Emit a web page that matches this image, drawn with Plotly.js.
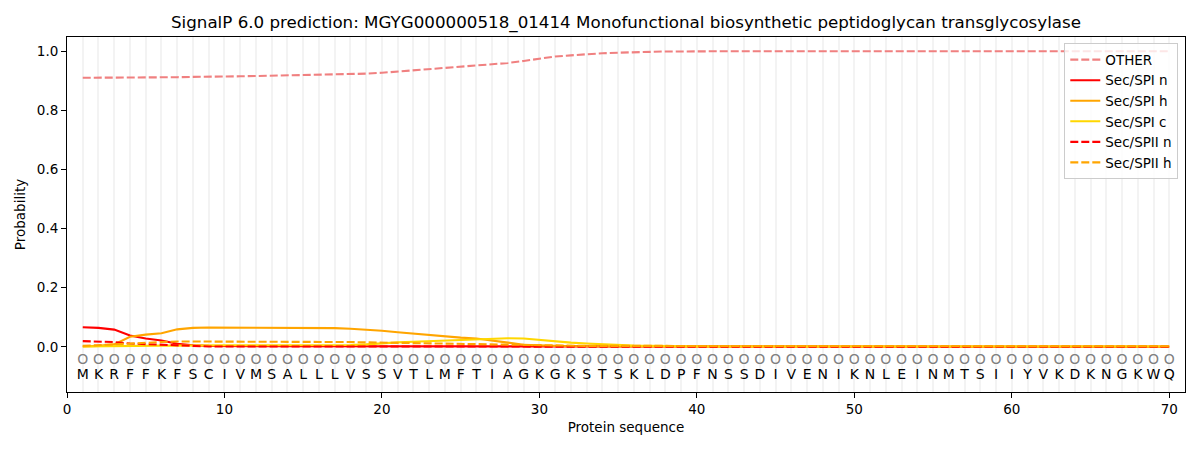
<!DOCTYPE html>
<html>
<head>
<meta charset="utf-8">
<script src="https://cdn.plot.ly/plotly-3.0.1.min.js"></script>
<style>
  html, body { margin: 0; padding: 0; background: #fff; }
  #chart { width: 1200px; height: 450px; }
</style>
</head>
<body>
<div id="chart"></div>
<script>
// residues of the protein, one letter per position
var sequence = ['M','K','R','F','F','K','F','S','C','I','V','M','S','A','L','L','L','V','S','S',
                'V','T','L','M','F','T','I','A','G','K','G','K','S','T','S','K','L','D','P','F',
                'N','S','S','D','I','V','E','N','I','K','N','L','E','I','N','M','T','S','I','I',
                'Y','V','K','D','K','N','G','K','W','Q']

// predicted label per residue (all "O" = other)
var predLabels = sequence.map(function () { return 'O' })

var positions = sequence.map(function (s, i) { return i + 1 })

// per-residue probabilities
var other = [0.910,0.910,0.910,0.910,0.911,0.911,0.912,0.913,0.913,0.914,
             0.915,0.916,0.917,0.918,0.919,0.920,0.921,0.922,0.924,0.927,
             0.931,0.935,0.939,0.943,0.947,0.951,0.955,0.960,0.967,0.975,
             0.982,0.986,0.990,0.993,0.995,0.997,0.998,0.999,0.999,1.000,
             1.000,1.000,1.000,1.000,1.000,1.000,1.000,1.000,1.000,1.000,
             1.000,1.000,1.000,1.000,1.000,1.000,1.000,1.000,1.000,1.000,
             1.000,1.000,1.000,1.000,1.000,1.000,1.000,1.000,1.000,1.000]

var spiN = [0.066,0.064,0.058,0.038,0.028,0.021,0.010,0.005,0.003,0.002,
            0.002,0.002,0.002,0.002,0.002,0.002,0.002,0.002,0.002,0.002,
            0.001,0.001,0.001,0.001,0.001,0.001,0.001,0.001,0.001,0.001,
            0.000,0.000,0.000,0.000,0.000,0.000,0.000,0.000,0.000,0.000,
            0.000,0.000,0.000,0.000,0.000,0.000,0.000,0.000,0.000,0.000,
            0.000,0.000,0.000,0.000,0.000,0.000,0.000,0.000,0.000,0.000,
            0.000,0.000,0.000,0.000,0.000,0.000,0.000,0.000,0.000,0.000]

var spiH = [0.001,0.003,0.008,0.034,0.041,0.046,0.059,0.064,0.065,0.065,
            0.065,0.065,0.065,0.065,0.065,0.064,0.063,0.061,0.058,0.054,
            0.049,0.044,0.039,0.035,0.031,0.028,0.022,0.014,0.007,0.004,
            0.003,0.002,0.001,0.001,0.001,0.001,0.001,0.001,0.001,0.001,
            0.001,0.001,0.001,0.001,0.001,0.001,0.001,0.001,0.001,0.001,
            0.001,0.001,0.001,0.001,0.001,0.001,0.001,0.001,0.001,0.001,
            0.001,0.001,0.001,0.001,0.001,0.001,0.001,0.001,0.001,0.001]

var spiC = [0.001,0.002,0.003,0.003,0.004,0.004,0.004,0.005,0.005,0.005,
            0.005,0.005,0.005,0.005,0.005,0.006,0.006,0.006,0.008,0.012,
            0.015,0.017,0.019,0.020,0.021,0.023,0.026,0.029,0.028,0.023,
            0.018,0.014,0.011,0.008,0.006,0.004,0.003,0.002,0.001,0.001,
            0.001,0.001,0.001,0.001,0.001,0.001,0.001,0.001,0.001,0.001,
            0.001,0.001,0.001,0.001,0.001,0.001,0.001,0.001,0.001,0.001,
            0.001,0.001,0.001,0.001,0.001,0.001,0.001,0.001,0.001,0.001]

var spiiN = [0.019,0.018,0.016,0.011,0.009,0.007,0.004,0.002,0.001,0.001,
             0.001,0.001,0.001,0.001,0.001,0.001,0.001,0.001,0.001,0.001,
             0.001,0.001,0.001,0.001,0.001,0.001,0.001,0.001,0.001,0.001,
             0.000,0.000,0.000,0.000,0.000,0.000,0.000,0.000,0.000,0.000,
             0.000,0.000,0.000,0.000,0.000,0.000,0.000,0.000,0.000,0.000,
             0.000,0.000,0.000,0.000,0.000,0.000,0.000,0.000,0.000,0.000,
             0.000,0.000,0.000,0.000,0.000,0.000,0.000,0.000,0.000,0.000]

var spiiH = [0.003,0.006,0.009,0.012,0.014,0.016,0.018,0.018,0.018,0.018,
             0.018,0.018,0.017,0.017,0.017,0.017,0.017,0.016,0.015,0.014,
             0.013,0.012,0.011,0.010,0.009,0.008,0.007,0.006,0.005,0.004,
             0.003,0.003,0.003,0.003,0.003,0.002,0.002,0.002,0.002,0.002,
             0.002,0.002,0.002,0.002,0.002,0.002,0.002,0.002,0.002,0.002,
             0.002,0.002,0.002,0.002,0.002,0.002,0.002,0.002,0.002,0.002,
             0.002,0.002,0.002,0.002,0.002,0.002,0.002,0.002,0.002,0.002]

var FONT = 'DejaVu Sans, Liberation Sans, sans-serif'
var LW = 2.1
var DASH = '8px,3px'
var GRID = '#f3f3f3'

function line(name, y, color, dash) {
  return {
    x: positions, y: y, name: name, type: 'scatter', mode: 'lines',
    line: { color: color, width: LW, dash: dash || 'solid' },
    hoverinfo: 'skip'
  }
}

var traces = [
  line('OTHER', other, '#f08080', DASH),
  line('Sec/SPI n', spiN, '#ff0000'),
  line('Sec/SPI h', spiH, '#ffa500'),
  line('Sec/SPI c', spiC, '#ffd700'),
  line('Sec/SPII n', spiiN, '#ff0000', DASH),
  line('Sec/SPII h', spiiH, '#ffa500', DASH),
  // grey "O" row
  {
    x: positions, y: positions.map(function () { return -0.045 }),
    text: predLabels, type: 'scatter', mode: 'text',
    textfont: { family: FONT, size: 14, color: '#808080' },
    showlegend: false, hoverinfo: 'skip', cliponaxis: false
  },
  // amino acid row
  {
    x: positions, y: positions.map(function () { return -0.097 }),
    text: sequence, type: 'scatter', mode: 'text',
    textfont: { family: FONT, size: 14, color: '#000' },
    showlegend: false, hoverinfo: 'skip', cliponaxis: false
  }
]

var layout = {
  width: 1200, height: 450,
  margin: { l: 67, r: 15, t: 37, b: 58 },
  paper_bgcolor: '#fff', plot_bgcolor: '#fff',
  font: { family: FONT, size: 13, color: '#000' },
  title: {
    text: 'SignalP 6.0 prediction: MGYG000000518_01414 Monofunctional biosynthetic peptidoglycan transglycosylase',
    font: { family: FONT, size: 16.7, color: '#000' },
    x: 0.5, xref: 'paper', y: 0.951, yref: 'container', yanchor: 'middle'
  },
  xaxis: {
    range: [0, 71], tickmode: 'linear', tick0: 0, dtick: 10,
    ticks: 'outside', ticklen: 5, tickcolor: '#000', tickwidth: 1,
    showline: true, mirror: true, linecolor: '#000', linewidth: 1,
    zeroline: false, showgrid: true, gridcolor: GRID, gridwidth: 2,
    minor: { dtick: 1, tick0: 0, showgrid: true, gridcolor: GRID, gridwidth: 2, ticks: '' },
    tickfont: { size: 13.5 },
    title: { text: 'Protein sequence', font: { size: 13.5 }, standoff: 6 }
  },
  yaxis: {
    range: [-0.153, 1.048], tickmode: 'linear', tick0: 0, dtick: 0.2, tickformat: '.1f',
    ticks: 'outside', ticklen: 5, tickcolor: '#000', tickwidth: 1,
    showline: true, mirror: true, linecolor: '#000', linewidth: 1,
    zeroline: false, showgrid: false,
    tickfont: { size: 13.5 },
    title: { text: 'Probability', font: { size: 13.5 }, standoff: 8 }
  },
  legend: {
    x: 0.994, y: 0.982, xanchor: 'right', yanchor: 'top',
    bgcolor: 'rgba(255,255,255,0.8)', bordercolor: '#cccccc', borderwidth: 1,
    font: { size: 13.5 }, tracegroupgap: 0
  },
  showlegend: true
}

Plotly.newPlot('chart', traces, layout, { staticPlot: true })
</script>
</body>
</html>
